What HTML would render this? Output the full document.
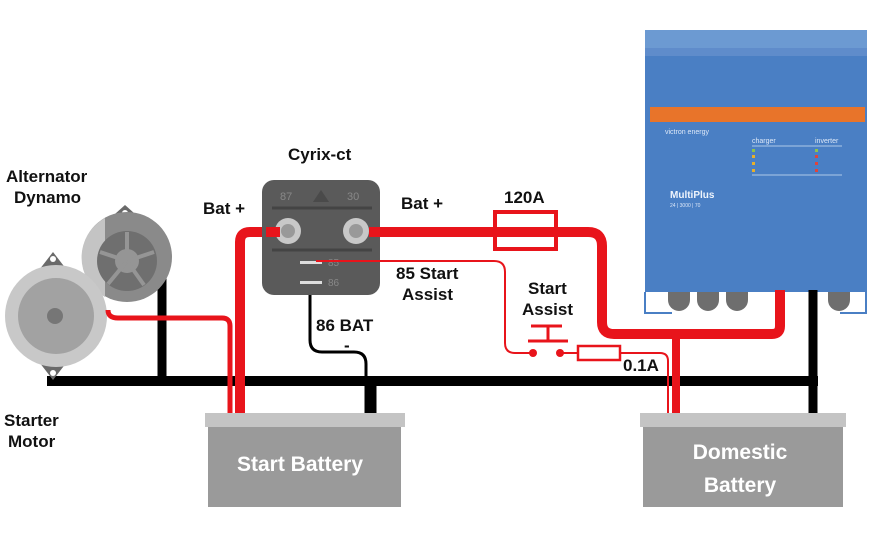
<!DOCTYPE html>
<html><head><meta charset="utf-8"><style>
body{margin:0;background:#fff;}
svg{display:block;font-family:"Liberation Sans",Arial,sans-serif;}
.l{font-weight:bold;font-size:17px;fill:#111;}
</style></head><body>
<svg width="870" height="544" viewBox="0 0 870 544" xmlns="http://www.w3.org/2000/svg">
<rect width="870" height="544" fill="#fff"/>
<!-- MultiPlus -->
<rect x="645" y="30" width="222" height="262" fill="#4a7fc4"/>
<rect x="645" y="30" width="222" height="18" fill="#6c9ad2"/>
<rect x="645" y="48" width="222" height="8" fill="#5f8ccb"/>
<rect x="650" y="107" width="215" height="15" fill="#e8742a"/>
<text x="665" y="134" font-size="7" fill="#dde8f8">victron energy</text>
<text x="752" y="143" font-size="7" fill="#dde8f8">charger</text>
<text x="815" y="143" font-size="7" fill="#dde8f8">inverter</text>
<line x1="752" y1="146" x2="842" y2="146" stroke="#cfe0f5" stroke-width="0.7"/>
<g fill="#8fc34a"><rect x="752" y="149" width="3" height="3"/><rect x="815" y="149" width="3" height="3"/></g>
<g fill="#e8b02a"><rect x="752" y="155" width="3" height="3"/><rect x="752" y="162" width="3" height="3"/><rect x="752" y="169" width="3" height="3"/></g>
<g fill="#e0443a"><rect x="815" y="155" width="3" height="3"/><rect x="815" y="162" width="3" height="3"/><rect x="815" y="169" width="3" height="3"/></g>
<line x1="752" y1="175" x2="842" y2="175" stroke="#cfe0f5" stroke-width="0.7"/>
<text x="670" y="198" font-size="10" font-weight="bold" fill="#eef4fc">MultiPlus</text>
<text x="670" y="207" font-size="5" fill="#dde8f8">24 | 3000 | 70</text>
<path d="M645 292 V313 H672 M866 292 V313 H840" stroke="#4a7fc4" stroke-width="2" fill="none"/>
<g fill="#6e6e6e">
<path d="M668 292 h22 v8 a11 11 0 0 1 -22 0z"/>
<path d="M697 292 h22 v8 a11 11 0 0 1 -22 0z"/>
<path d="M726 292 h22 v8 a11 11 0 0 1 -22 0z"/>
<path d="M828 292 h22 v8 a11 11 0 0 1 -22 0z"/>
</g>
<!-- ground bus -->
<line x1="47" y1="381" x2="818" y2="381" stroke="#000" stroke-width="10"/>
<line x1="162" y1="264" x2="162" y2="381" stroke="#000" stroke-width="9"/>
<line x1="813" y1="290" x2="813" y2="413" stroke="#000" stroke-width="9"/>
<line x1="372" y1="381" x2="372" y2="413" stroke="#000" stroke-width="9"/>
<path d="M310 285 V340 Q310 352 322 352 H354 Q366 352 366 364 V413" stroke="#000" stroke-width="3" fill="none"/>
<!-- Starter motor ears -->
<path d="M36 274 L53 252 L70 274 Z M36 358 L53 380 L70 358Z" fill="#6a6a6a"/>
<circle cx="53" cy="259" r="3" fill="#fff"/><circle cx="53" cy="373" r="3" fill="#fff"/>
<!-- Dynamo -->
<path d="M106 222 L125 205 L144 222Z" fill="#6a6a6a"/>
<circle cx="125" cy="213" r="3" fill="#fff"/>
<circle cx="127" cy="257" r="45" fill="#8a8a8a"/>
<path d="M105 218 A45 45 0 0 0 105 297Z" fill="#c4c4c4"/>
<circle cx="127" cy="261" r="30" fill="#6f6f6f"/>
<circle cx="127" cy="261" r="12" fill="#959595"/>
<g stroke="#959595" stroke-width="4"><line x1="127" y1="261" x2="127" y2="232"/><line x1="127" y1="261" x2="154" y2="252"/><line x1="127" y1="261" x2="144" y2="285"/><line x1="127" y1="261" x2="108" y2="284"/><line x1="127" y1="261" x2="100" y2="252"/></g>
<circle cx="56" cy="316" r="51" fill="#c8c8c8"/>
<circle cx="56" cy="316" r="38" fill="#a2a2a2"/>
<circle cx="55" cy="316" r="8" fill="#767676"/>
<!-- red wires -->
<path d="M108 310 Q108 318 118 318 H222 Q230 318 230 326 V413" stroke="#e8141b" stroke-width="5" fill="none"/>
<path d="M282 232 H250 Q240 232 240 242 V413" stroke="#e8141b" stroke-width="10" fill="none"/>
<path d="M360 232 H588 Q602 232 602 246 V322 Q602 334 614 334 H772 Q780 334 780 326 V290" stroke="#e8141b" stroke-width="10" fill="none"/>
<line x1="676" y1="334" x2="676" y2="413" stroke="#e8141b" stroke-width="8"/>
<rect x="495" y="212" width="61" height="37" fill="none" stroke="#e8141b" stroke-width="4"/>
<path d="M560 353 H660 Q668 353 668 361 V413" stroke="#e8141b" stroke-width="2" fill="none"/>
<rect x="578" y="346" width="42" height="14" fill="#fff" stroke="#e8141b" stroke-width="2.5"/>
<circle cx="533" cy="353" r="4" fill="#e8141b"/><circle cx="560" cy="353" r="4" fill="#e8141b"/>
<path d="M528 341 H568 M548 341 V326 M531 326 H562" stroke="#e8141b" stroke-width="3" fill="none"/>
<!-- Cyrix -->
<rect x="262" y="180" width="118" height="115" rx="12" fill="#5a5a5a"/>
<text x="280" y="200" font-size="11" fill="#888">87</text>
<text x="347" y="200" font-size="11" fill="#888">30</text>
<path d="M313 202 L321 190 L329 202Z" fill="#4a4a4a"/>
<line x1="272" y1="208" x2="372" y2="208" stroke="#444" stroke-width="3"/>
<line x1="272" y1="250" x2="372" y2="250" stroke="#444" stroke-width="3"/>
<circle cx="288" cy="231" r="13" fill="#c8c8c8"/><circle cx="288" cy="231" r="7" fill="#999"/>
<circle cx="356" cy="231" r="13" fill="#c8c8c8"/><circle cx="356" cy="231" r="7" fill="#999"/>
<rect x="300" y="261" width="22" height="3" fill="#ddd"/>
<rect x="300" y="281" width="22" height="3" fill="#ddd"/>
<text x="328" y="266" font-size="10" fill="#888">85</text>
<text x="328" y="286" font-size="10" fill="#888">86</text>
<path d="M316 261 H494 Q505 261 505 272 V343 Q505 353 515 353 H533" stroke="#e8141b" stroke-width="2" fill="none"/>
<path d="M280 232 H266" stroke="#e8141b" stroke-width="10"/>
<path d="M369 232 H380" stroke="#e8141b" stroke-width="10"/>
<!-- batteries -->
<rect x="205" y="413" width="200" height="14" fill="#c4c4c4"/>
<rect x="208" y="427" width="193" height="80" fill="#9a9a9a"/>
<text x="300" y="471" font-size="21" font-weight="bold" fill="#fff" text-anchor="middle">Start Battery</text>
<rect x="640" y="413" width="206" height="14" fill="#c4c4c4"/>
<rect x="643" y="427" width="200" height="80" fill="#9a9a9a"/>
<text x="740" y="459" font-size="21" font-weight="bold" fill="#fff" text-anchor="middle">Domestic</text>
<text x="740" y="492" font-size="21" font-weight="bold" fill="#fff" text-anchor="middle">Battery</text>
<!-- labels -->
<text class="l" x="6" y="182">Alternator</text>
<text class="l" x="14" y="203">Dynamo</text>
<text class="l" x="4" y="426">Starter</text>
<text class="l" x="8" y="447">Motor</text>
<text class="l" x="288" y="160" font-size="18">Cyrix-ct</text>
<text class="l" x="203" y="214">Bat +</text>
<text class="l" x="401" y="209">Bat +</text>
<text class="l" x="504" y="203">120A</text>
<text class="l" x="396" y="279">85 Start</text>
<text class="l" x="402" y="300">Assist</text>
<text class="l" x="316" y="331">86 BAT</text>
<text class="l" x="344" y="351">-</text>
<text class="l" x="528" y="294">Start</text>
<text class="l" x="522" y="315">Assist</text>
<text class="l" x="623" y="371">0.1A</text>
</svg>
</body></html>
